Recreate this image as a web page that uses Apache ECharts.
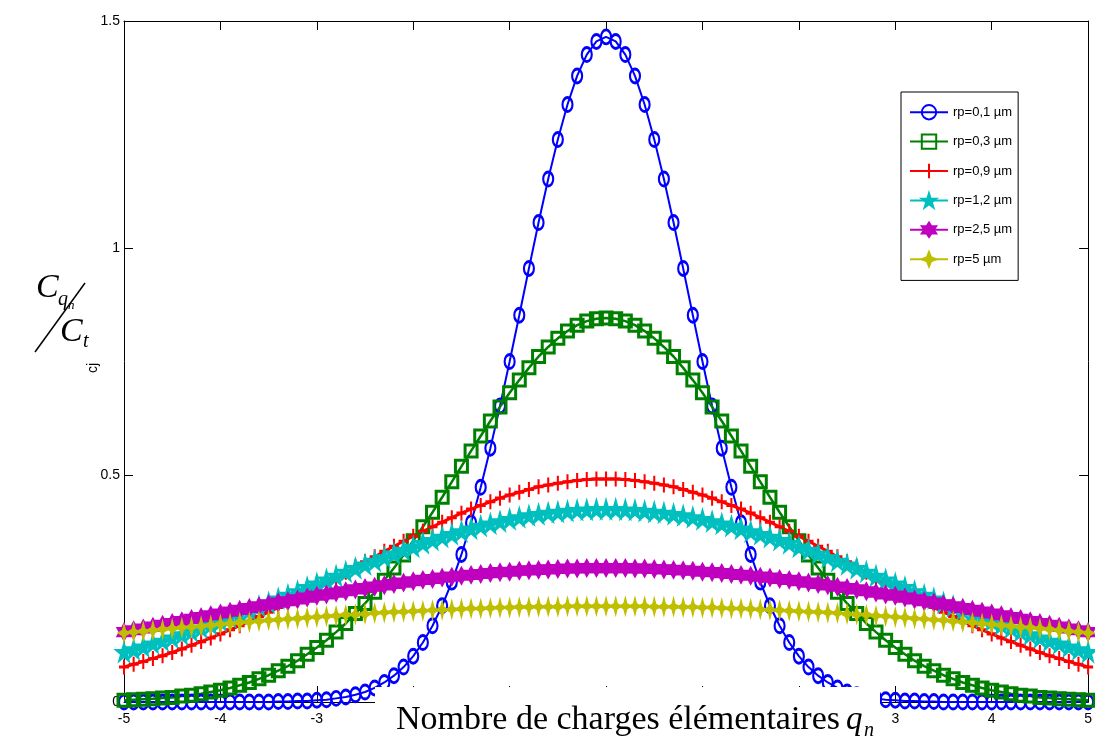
<!DOCTYPE html>
<html>
<head>
<meta charset="utf-8">
<script src="https://cdn.jsdelivr.net/npm/echarts@6/dist/echarts.min.js"></script>
<style>
  html, body { margin: 0; padding: 0; background: #fff; }
  #chart { width: 1095px; height: 737px; }
</style>
</head>
<body>
<div id="chart"></div>
<script>
// Number of elementary charges q_n (x positions of every sample)
const qn = [
  -5.0,-4.9,-4.8,-4.7,-4.6,-4.5,-4.4,-4.3,-4.2,-4.1,
  -4.0,-3.9,-3.8,-3.7,-3.6,-3.5,-3.4,-3.3,-3.2,-3.1,
  -3.0,-2.9,-2.8,-2.7,-2.6,-2.5,-2.4,-2.3,-2.2,-2.1,
  -2.0,-1.9,-1.8,-1.7,-1.6,-1.5,-1.4,-1.3,-1.2,-1.1,
  -1.0,-0.9,-0.8,-0.7,-0.6,-0.5,-0.4,-0.3,-0.2,-0.1,
  0.0,
  0.1,0.2,0.3,0.4,0.5,0.6,0.7,0.8,0.9,1.0,
  1.1,1.2,1.3,1.4,1.5,1.6,1.7,1.8,1.9,2.0,
  2.1,2.2,2.3,2.4,2.5,2.6,2.7,2.8,2.9,3.0,
  3.1,3.2,3.3,3.4,3.5,3.6,3.7,3.8,3.9,4.0,
  4.1,4.2,4.3,4.4,4.5,4.6,4.7,4.8,4.9,5.0
];

// C_qn / C_t for each particle radius
const rp01 = [
  0,0,0,0,0,0,0,0,0,0,
  0,0,0,0,0,0,0.001,0.001,0.002,0.002,
  0.004,0.005,0.008,0.011,0.016,0.022,0.031,0.043,0.058,0.077,
  0.101,0.131,0.168,0.212,0.264,0.325,0.395,0.473,0.559,0.652,
  0.750,0.852,0.955,1.056,1.152,1.239,1.316,1.379,1.426,1.455,
  1.465,
  1.455,1.426,1.379,1.316,1.239,1.152,1.056,0.955,0.852,0.750,
  0.652,0.559,0.473,0.395,0.325,0.264,0.212,0.168,0.131,0.101,
  0.077,0.058,0.043,0.031,0.022,0.016,0.011,0.008,0.005,0.004,
  0.002,0.002,0.001,0.001,0,0,0,0,0,0,
  0,0,0,0,0,0,0,0,0,0
];
const rp03 = [
  0.004,0.005,0.006,0.007,0.009,0.010,0.013,0.015,0.018,0.022,
  0.026,0.031,0.037,0.043,0.051,0.059,0.069,0.079,0.091,0.105,
  0.120,0.136,0.154,0.173,0.195,0.217,0.242,0.268,0.295,0.324,
  0.355,0.386,0.418,0.451,0.485,0.519,0.553,0.586,0.619,0.650,
  0.681,0.709,0.736,0.761,0.782,0.801,0.817,0.830,0.839,0.844,
  0.846,
  0.844,0.839,0.830,0.817,0.801,0.782,0.761,0.736,0.709,0.681,
  0.650,0.619,0.586,0.553,0.519,0.485,0.451,0.418,0.386,0.355,
  0.324,0.295,0.268,0.242,0.217,0.195,0.173,0.154,0.136,0.120,
  0.105,0.091,0.079,0.069,0.059,0.051,0.043,0.037,0.031,0.026,
  0.022,0.018,0.015,0.013,0.010,0.009,0.007,0.006,0.005,0.004
];
const rp09 = [
  0.077,0.083,0.089,0.096,0.102,0.109,0.117,0.125,0.133,0.141,
  0.150,0.159,0.168,0.178,0.188,0.198,0.208,0.219,0.230,0.241,
  0.252,0.263,0.275,0.286,0.298,0.309,0.320,0.332,0.343,0.354,
  0.365,0.376,0.386,0.396,0.406,0.416,0.425,0.433,0.441,0.449,
  0.456,0.462,0.468,0.474,0.478,0.482,0.485,0.488,0.490,0.491,
  0.491,
  0.491,0.490,0.488,0.485,0.482,0.478,0.474,0.468,0.462,0.456,
  0.449,0.441,0.433,0.425,0.416,0.406,0.396,0.386,0.376,0.365,
  0.354,0.343,0.332,0.320,0.309,0.298,0.286,0.275,0.263,0.252,
  0.241,0.230,0.219,0.208,0.198,0.188,0.178,0.168,0.159,0.150,
  0.141,0.133,0.125,0.117,0.109,0.102,0.096,0.089,0.083,0.077
];
const rp12 = [
  0.110,0.116,0.122,0.129,0.135,0.142,0.149,0.156,0.164,0.171,
  0.179,0.187,0.195,0.203,0.211,0.219,0.228,0.236,0.244,0.253,
  0.261,0.270,0.278,0.287,0.295,0.303,0.311,0.319,0.327,0.335,
  0.342,0.350,0.357,0.364,0.370,0.376,0.382,0.388,0.393,0.398,
  0.403,0.407,0.411,0.414,0.417,0.419,0.421,0.423,0.424,0.425,
  0.425,
  0.425,0.424,0.423,0.421,0.419,0.417,0.414,0.411,0.407,0.403,
  0.398,0.393,0.388,0.382,0.376,0.370,0.364,0.357,0.350,0.342,
  0.335,0.327,0.319,0.311,0.303,0.295,0.287,0.278,0.270,0.261,
  0.253,0.244,0.236,0.228,0.219,0.211,0.203,0.195,0.187,0.179,
  0.171,0.164,0.156,0.149,0.142,0.135,0.129,0.122,0.116,0.110
];
const rp25 = [
  0.154,0.158,0.162,0.166,0.170,0.174,0.178,0.183,0.187,0.191,
  0.195,0.199,0.203,0.207,0.211,0.215,0.219,0.222,0.226,0.230,
  0.234,0.237,0.241,0.244,0.248,0.251,0.254,0.257,0.260,0.263,
  0.266,0.269,0.271,0.274,0.276,0.278,0.280,0.282,0.284,0.286,
  0.287,0.289,0.290,0.291,0.292,0.293,0.294,0.294,0.295,0.295,
  0.295,
  0.295,0.295,0.294,0.294,0.293,0.292,0.291,0.290,0.289,0.287,
  0.286,0.284,0.282,0.280,0.278,0.276,0.274,0.271,0.269,0.266,
  0.263,0.260,0.257,0.254,0.251,0.248,0.244,0.241,0.237,0.234,
  0.230,0.226,0.222,0.219,0.215,0.211,0.207,0.203,0.199,0.195,
  0.191,0.187,0.183,0.178,0.174,0.170,0.166,0.162,0.158,0.154
];
const rp5 = [
  0.152,0.154,0.156,0.158,0.160,0.162,0.164,0.165,0.167,0.169,
  0.171,0.173,0.175,0.176,0.178,0.180,0.181,0.183,0.184,0.186,
  0.187,0.189,0.190,0.192,0.193,0.194,0.196,0.197,0.198,0.199,
  0.200,0.201,0.202,0.203,0.204,0.205,0.206,0.206,0.207,0.208,
  0.208,0.209,0.209,0.210,0.210,0.210,0.211,0.211,0.211,0.211,
  0.211,
  0.211,0.211,0.211,0.211,0.210,0.210,0.210,0.209,0.209,0.208,
  0.208,0.207,0.206,0.206,0.205,0.204,0.203,0.202,0.201,0.200,
  0.199,0.198,0.197,0.196,0.194,0.193,0.192,0.190,0.189,0.187,
  0.186,0.184,0.183,0.181,0.180,0.178,0.176,0.175,0.173,0.171,
  0.169,0.167,0.165,0.164,0.162,0.160,0.158,0.156,0.154,0.152
];

const seriesNames = ['rp=0,1 µm', 'rp=0,3 µm', 'rp=0,9 µm', 'rp=1,2 µm', 'rp=2,5 µm', 'rp=5 µm'];
const xTicks = [-5, -4, -3, -2, -1, 0, 1, 2, 3, 4, 5];
const yTicks = [0, 0.5, 1, 1.5];

// Marker outlines
const PLUS = 'path://M5,0L5,10M0,5L10,5';
const STAR5 = 'path://M0,-100L22.5,-30.9L95.1,-30.9L36.3,11.8L58.8,80.9L0,38.2L-58.8,80.9L-36.3,11.8L-95.1,-30.9L-22.5,-30.9Z';
const STAR6 = 'path://M0,-100L28.9,-50L86.6,-50L57.7,0L86.6,50L28.9,50L0,100L-28.9,50L-86.6,50L-57.7,0L-86.6,-50L-28.9,-50Z';
const STAR4 = 'path://M0,-100L28,-28L100,0L28,28L0,100L-28,28L-100,0L-28,-28Z';

const pairs = ys => qn.map((x, i) => [x, ys[i]]);

const narrow = "'Liberation Sans Narrow', 'Arial Narrow', 'Liberation Sans', sans-serif";
const serif = "'Liberation Serif', 'Times New Roman', serif";

function lineSeries(name, ys, color, width, symbol, size, hollow, border) {
  return {
    name: name,
    type: 'line',
    data: pairs(ys),
    xAxisIndex: 0,
    yAxisIndex: 0,
    smooth: false,
    symbol: symbol,
    symbolSize: size,
    showAllSymbol: true,
    clip: false,
    lineStyle: { color: color, width: width },
    itemStyle: hollow
      ? { color: 'rgba(255,255,255,0)', borderColor: color, borderWidth: border }
      : { color: color, borderColor: color, borderWidth: border },
    emphasis: { disabled: true },
    animation: false
  };
}

const chart = echarts.init(document.getElementById('chart'), null, { renderer: 'canvas' });

const axisLine = { show: true, onZero: false, lineStyle: { color: '#000', width: 1 } };

chart.setOption({
  backgroundColor: '#fff',
  animation: false,
  grid: { left: 124, right: 2, top: 21, bottom: 35, containLabel: false },
  xAxis: [
    {
      type: 'value', position: 'bottom', min: xTicks[0], max: xTicks[xTicks.length - 1], interval: 1,
      axisLine: axisLine, splitLine: { show: false },
      axisTick: { show: true, inside: true, length: 16, lineStyle: { color: '#000' } },
      axisLabel: { show: true, color: '#000', fontFamily: narrow, fontSize: 14, margin: 10 }
    },
    {
      type: 'value', position: 'top', min: xTicks[0], max: xTicks[xTicks.length - 1], interval: 1,
      axisLine: axisLine, splitLine: { show: false },
      axisTick: { show: true, inside: true, length: 9, lineStyle: { color: '#000' } },
      axisLabel: { show: false }
    }
  ],
  yAxis: [
    {
      type: 'value', position: 'left', min: yTicks[0], max: yTicks[yTicks.length - 1], interval: 0.5,
      axisLine: axisLine, splitLine: { show: false },
      axisTick: { show: true, inside: true, length: 9, lineStyle: { color: '#000' } },
      axisLabel: { show: true, color: '#000', fontFamily: narrow, fontSize: 14, margin: 4 }
    },
    {
      type: 'value', position: 'right', min: yTicks[0], max: yTicks[yTicks.length - 1], interval: 0.5,
      axisLine: axisLine, splitLine: { show: false },
      axisTick: { show: true, inside: true, length: 9, lineStyle: { color: '#000' } },
      axisLabel: { show: false }
    }
  ],
  legend: {
    orient: 'vertical',
    left: 901,
    top: 92,
    padding: [12, 6, 13, 8],
    itemWidth: 38,
    itemHeight: 18,
    itemGap: 13,
    backgroundColor: '#fff',
    borderColor: '#000',
    borderWidth: 1,
    borderRadius: 0,
    textStyle: { color: '#000', fontFamily: narrow, fontSize: 13 },
    data: seriesNames
  },
  series: [
    lineSeries(seriesNames[0], rp01, '#0000ff', 2, 'circle', [10, 14], true, 2.5),
    lineSeries(seriesNames[1], rp03, '#008000', 2.5, 'rect', [12, 12], true, 3),
    lineSeries(seriesNames[2], rp09, '#ff0000', 3, PLUS, [10, 15], true, 2.5),
    lineSeries(seriesNames[3], rp12, '#00bfbf', 3, STAR5, [17, 19], false, 1.5),
    lineSeries(seriesNames[4], rp25, '#bf00bf', 3, STAR6, [14, 17], false, 1.5),
    lineSeries(seriesNames[5], rp5, '#bfbf00', 3, STAR4, [11, 17], false, 1.5)
  ],
  graphic: [
    // label panel under the x axis
    { type: 'rect', z: 100, shape: { x: 375, y: 687, width: 505, height: 50 }, style: { fill: '#fff' } },
    { type: 'text', z: 101, x: 396, y: 720,
      style: { text: 'Nombre de charges élémentaires', font: '34px ' + serif, fill: '#000', textVerticalAlign: 'middle' } },
    { type: 'text', z: 101, x: 846, y: 720,
      style: { text: 'q', font: 'italic 33px ' + serif, fill: '#000', textVerticalAlign: 'middle' } },
    { type: 'text', z: 101, x: 864, y: 731,
      style: { text: 'n', font: 'italic 20px ' + serif, fill: '#000', textVerticalAlign: 'middle' } },
    // y-axis title: C_qn / C_t
    { type: 'text', z: 101, x: 36, y: 288,
      style: { text: 'C', font: 'italic 34px ' + serif, fill: '#000', textVerticalAlign: 'middle' } },
    { type: 'text', z: 101, x: 58, y: 300,
      style: { text: 'q', font: 'italic 20px ' + serif, fill: '#000', textVerticalAlign: 'middle' } },
    { type: 'text', z: 101, x: 68, y: 306,
      style: { text: 'n', font: 'italic 13px ' + serif, fill: '#000', textVerticalAlign: 'middle' } },
    { type: 'line', z: 101, shape: { x1: 35, y1: 352, x2: 85, y2: 283 }, style: { stroke: '#000', lineWidth: 1.5 } },
    { type: 'text', z: 101, x: 60, y: 332,
      style: { text: 'C', font: 'italic 34px ' + serif, fill: '#000', textVerticalAlign: 'middle' } },
    { type: 'text', z: 101, x: 83, y: 342,
      style: { text: 't', font: 'italic 20px ' + serif, fill: '#000', textVerticalAlign: 'middle' } },
    { type: 'text', z: 101, x: 93, y: 368, rotation: Math.PI / 2,
      style: { text: 'cj', font: '14px ' + narrow, fill: '#000', textAlign: 'center', textVerticalAlign: 'middle' } }
  ]
});
</script>
</body>
</html>
